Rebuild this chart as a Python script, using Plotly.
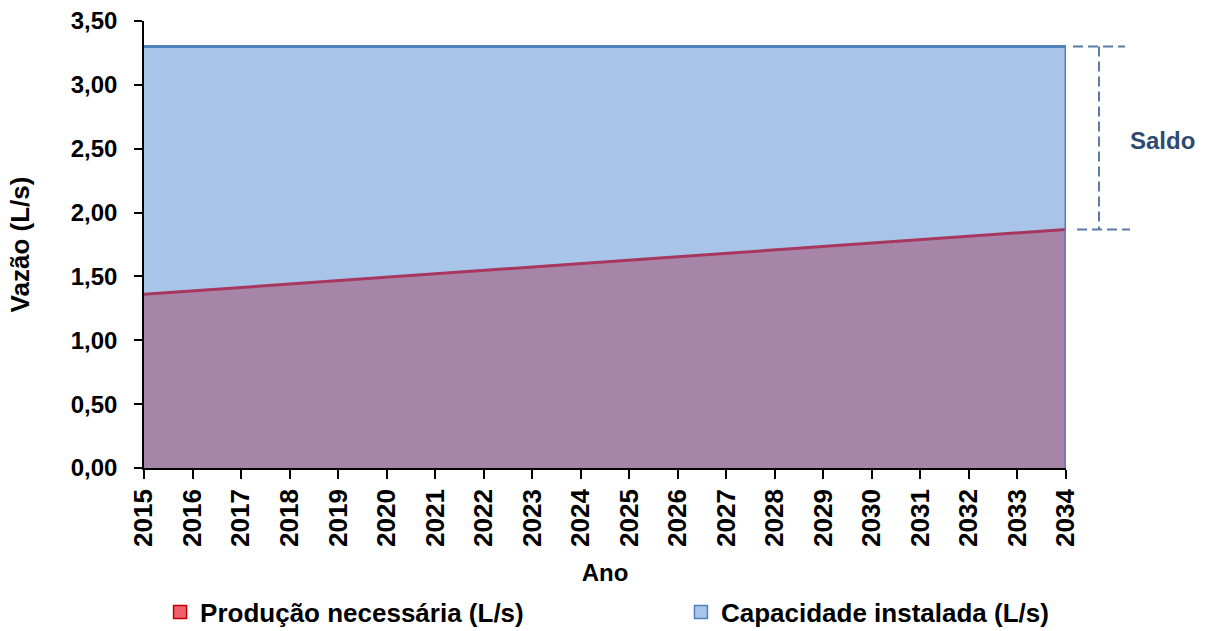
import plotly.graph_objects as go

# Projected demand vs. installed capacity, 2015-2034
anos = list(range(2015, 2035))
producao_necessaria = [1.360, 1.387, 1.413, 1.440, 1.467, 1.494, 1.520, 1.547, 1.574, 1.601,
                       1.627, 1.654, 1.681, 1.708, 1.734, 1.761, 1.788, 1.815, 1.841, 1.868]
capacidade_instalada = [3.30] * len(anos)

nome_prod = "Produção necessária (L/s)"
nome_cap = "Capacidade instalada (L/s)"

FONT = "Liberation Sans, Arial, sans-serif"
AZUL_FILL = "#A9C4E9"
AZUL_LINHA = "#4F81BD"
ROXO_FILL = "#A785A8"
VERM_LINHA = "#A8375F"
SALDO_COR = "#5B7BA6"

fig = go.Figure()

# capacity area (fill only)
fig.add_trace(go.Scatter(
    x=anos, y=capacidade_instalada, mode="lines", fill="tozeroy",
    fillcolor=AZUL_FILL, line=dict(width=0, color=AZUL_FILL),
    showlegend=False, hoverinfo="skip"))

# required production area
fig.add_trace(go.Scatter(
    x=anos, y=producao_necessaria, mode="lines", fill="tozeroy",
    fillcolor=ROXO_FILL, line=dict(width=3, color=VERM_LINHA),
    showlegend=False, name=nome_prod))

# capacity outline, closed down to zero at the last year
fig.add_trace(go.Scatter(
    x=anos + [anos[-1]], y=capacidade_instalada + [0], mode="lines",
    line=dict(width=3, color=AZUL_LINHA), showlegend=False,
    name=nome_cap))

# legend entries
fig.add_trace(go.Scatter(
    x=[None], y=[None], mode="markers", name=nome_prod,
    marker=dict(symbol="square", size=13, color="#F0606A",
                line=dict(color="#C00000", width=1.5)),
    legend="legend"))
fig.add_trace(go.Scatter(
    x=[None], y=[None], mode="markers", name=nome_cap,
    marker=dict(symbol="square", size=13, color=AZUL_FILL,
                line=dict(color=AZUL_LINHA, width=1.5)),
    legend="legend2"))

# "Saldo" bracket between capacity and production at the final year
x_esq_top, x_dir_top = 1.0076, 1.064
x_esq_bot, x_dir_bot = 1.012, 1.0694
x_vert = 1.0358
y_top = capacidade_instalada[-1]
y_bot = producao_necessaria[-1]
dash_line = dict(color=SALDO_COR, width=2, dash="10px,5px")
fig.add_shape(type="line", xref="paper", yref="y", x0=x_esq_top, x1=x_dir_top,
              y0=y_top, y1=y_top, line=dash_line)
fig.add_shape(type="line", xref="paper", yref="y", x0=x_esq_bot, x1=x_dir_bot,
              y0=y_bot, y1=y_bot, line=dash_line)
fig.add_shape(type="line", xref="paper", yref="y", x0=x_vert, x1=x_vert,
              y0=y_top, y1=y_bot, line=dash_line)
fig.add_annotation(xref="paper", yref="y", x=1.105, y=(y_top + y_bot) / 2 - 0.02,
                   text="Saldo", showarrow=False, xanchor="center",
                   font=dict(family=FONT, size=24, color="#2F4A72", weight="bold"))

legend_font = dict(family=FONT, size=26, color="black", weight="bold")
fig.update_layout(
    width=1208, height=631,
    margin=dict(l=144, r=142, t=21, b=163),
    paper_bgcolor="white", plot_bgcolor="white",
    separators=",.",
    font=dict(family=FONT, color="black", weight="bold"),
    legend=dict(orientation="h", xref="container", yref="container",
                x=0.1325, y=0.030, xanchor="left", yanchor="middle",
                font=legend_font, bgcolor="rgba(0,0,0,0)", itemwidth=30),
    legend2=dict(orientation="h", xref="container", yref="container",
                 x=0.5637, y=0.030, xanchor="left", yanchor="middle",
                 font=legend_font, bgcolor="rgba(0,0,0,0)", itemwidth=30),
)

fig.update_xaxes(
    range=[anos[0], anos[-1]], tickmode="array", tickvals=anos,
    ticktext=[str(a) for a in anos], tickangle=-90,
    ticks="outside", ticklen=9, tickcolor="black", tickwidth=1.5,
    showline=True, linecolor="black", linewidth=1.5, showgrid=False,
    zeroline=False, automargin=False, ticklabelstandoff=0,
    tickfont=dict(family=FONT, size=26, color="black", weight="bold"),
    title=dict(text="Ano", standoff=18,
               font=dict(family=FONT, size=24, color="black", weight="bold")),
)
fig.update_yaxes(
    range=[0, 3.5], dtick=0.5, tickformat=".2f",
    ticks="outside", ticklen=8, tickcolor="black", tickwidth=1.5,
    showline=True, linecolor="black", linewidth=1.5, showgrid=False,
    zeroline=False, automargin=False, ticklabelstandoff=12,
    tickfont=dict(family=FONT, size=24, color="black", weight="bold"),
    title=dict(text="Vazão (L/s)", standoff=34,
               font=dict(family=FONT, size=26, color="black", weight="bold")),
)

fig.write_html("out.html")
